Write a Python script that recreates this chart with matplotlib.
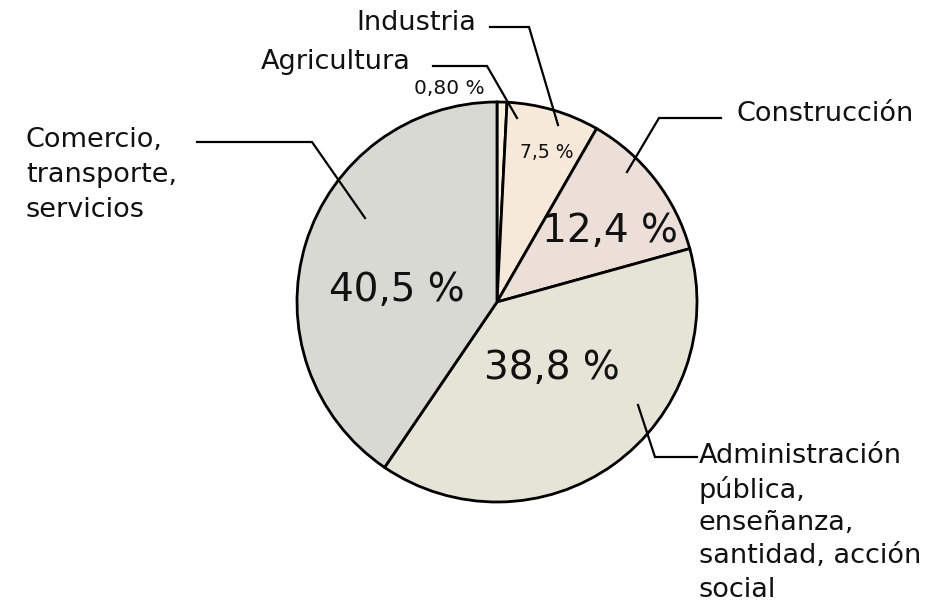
import matplotlib
matplotlib.use("Agg")
import matplotlib.pyplot as plt

# Employment share by sector (%)
sectors = ["Agricultura", "Industria", "Construcción",
           "Administración\npública,\nenseñanza,\nsantidad, acción\nsocial",
           "Comercio,\ntransporte,\nservicios"]
shares = [0.80, 7.5, 12.4, 38.8, 40.5]
colors = ["#fbf1e0", "#f7e9da", "#ecdfd7", "#e6e3d7", "#d8d9d3"]

W, H = 929, 603
plt.rcParams["font.family"] = ["DejaVu Sans"]

fig = plt.figure(figsize=(W / 100, H / 100), dpi=100)
ax = fig.add_axes([0, 0, 1, 1])


def P(x, y):
    """Pixel-style coordinates (origin top-left) to data coordinates."""
    return x, H - y


cx, cy = P(497, 302)
ax.pie(shares, colors=colors, startangle=90, counterclock=False,
       center=(cx, cy), radius=200,
       wedgeprops=dict(edgecolor="black", linewidth=2.0))


def fmt(v, dec):
    return f"{v:.{dec}f}".replace(".", ",") + " %"


# value labels
big = dict(fontsize=28, ha="center", va="center", color="#111111")
ax.text(*P(610, 231), fmt(shares[2], 1), **big)
ax.text(*P(397, 290), fmt(shares[4], 1), **big)
ax.text(*P(552, 368), fmt(shares[3], 1), **big)
ax.text(*P(547, 152), fmt(shares[1], 1), fontsize=13.5, ha="center",
        va="center", color="#111111")
ax.text(*P(485, 89), fmt(shares[0], 2), fontsize=14.5, ha="right",
        va="center", color="#111111")

# category labels
lab = dict(fontsize=19.5, va="center", color="#111111")
ax.text(*P(476, 23), sectors[1], ha="right", **lab)
ax.text(*P(411, 62), sectors[0], ha="right", **lab)
ax.text(*P(737, 114), sectors[2], ha="left", **lab)

for i, line in enumerate(sectors[4].split("\n")):
    ax.text(*P(26, 140 + 35 * i), line, ha="left", **lab)
for i, line in enumerate(sectors[3].split("\n")):
    ax.text(*P(699, 456 + 33.5 * i), line, ha="left", **lab)

# leader lines
leaders = [
    [(490, 27), (529, 27), (558, 125)],
    [(433, 66), (487, 66), (517, 118)],
    [(721, 118), (659, 118), (627, 172)],
    [(197, 142), (312, 142), (365, 218)],
    [(638, 405), (655, 457), (697, 457)],
]
for pts in leaders:
    xs, ys = zip(*(P(x, y) for x, y in pts))
    ax.plot(xs, ys, color="black", linewidth=1.6, solid_joinstyle="miter")

ax.set_xlim(0, W)
ax.set_ylim(0, H)
ax.set_aspect("equal")
ax.axis("off")

fig.savefig("out.png", dpi=100, facecolor="white")
